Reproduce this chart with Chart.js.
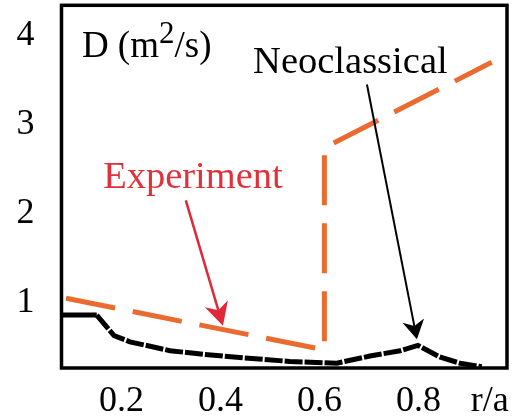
<!DOCTYPE html>
<html>
<head>
<meta charset="utf-8">
<script src="https://cdn.jsdelivr.net/npm/chart.js@4.4.0/dist/chart.umd.min.js"></script>
<style>
html, body { margin: 0; padding: 0; background: #fff; }
#wrap { width: 520px; height: 418px; }
</style>
</head>
<body>
<div id="wrap"><canvas id="graphic-d"></canvas></div>
<script>
// values (r/a, D in m2/s)
var experimentR = [0.088, 0.61, 0.61, 0.948];
var experimentD = [1.02, 0.44, 2.71, 3.67];
var neoR = [0.079, 0.150, 0.185, 0.217, 0.258, 0.298, 0.365, 0.445, 0.540, 0.635, 0.702, 0.763, 0.799, 0.843, 0.884, 0.928];
var neoD = [0.83, 0.83, 0.60, 0.53, 0.48, 0.43, 0.39, 0.35, 0.31, 0.29, 0.37, 0.43, 0.49, 0.36, 0.29, 0.25];
var xTicks = [0.2, 0.4, 0.6, 0.8, 0.944];
var xTickLabels = ['0.2', '0.4', '0.6', '0.8', 'r/a'];
var yTicks = [1, 2, 3, 4];
var yTickLabels = ['1', '2', '3', '4'];

var FONT = "'Liberation Serif', 'DejaVu Serif', serif";
var ORANGE = '#E96B30';
var RED = '#E0303A';

function toPoints(xs, ys) {
    return xs.map(function (x, i) { return { x: x, y: ys[i] }; });
}

function drawArrow(ctx, x0, y0, x1, y1, color, lw, headLen, headHalf) {
    var a = Math.atan2(y1 - y0, x1 - x0);
    var ux = Math.cos(a), uy = Math.sin(a);
    var bx = x1 - ux * headLen, by = y1 - uy * headLen;
    var nx = x1 - ux * headLen * 0.7, ny = y1 - uy * headLen * 0.7;
    ctx.save();
    ctx.strokeStyle = color;
    ctx.fillStyle = color;
    ctx.lineWidth = lw;
    ctx.beginPath();
    ctx.moveTo(x0, y0);
    ctx.lineTo(nx, ny);
    ctx.stroke();
    ctx.beginPath();
    ctx.moveTo(x1, y1);
    ctx.lineTo(bx - uy * headHalf, by + ux * headHalf);
    ctx.lineTo(nx, ny);
    ctx.lineTo(bx + uy * headHalf, by - ux * headHalf);
    ctx.closePath();
    ctx.fill();
    ctx.restore();
}

function noPad(s) {
    s.paddingTop = 0;
    s.paddingBottom = 0;
    s.paddingLeft = 0;
    s.paddingRight = 0;
}

var framePlugin = {
    id: 'frame',
    afterDatasetsDraw: function (chart) {
        var a = chart.chartArea, ctx = chart.ctx;
        ctx.save();
        ctx.strokeStyle = '#000';
        ctx.lineWidth = 3.5;
        ctx.strokeRect(a.left, a.top, a.right - a.left, a.bottom - a.top);
        ctx.restore();
    }
};

var notesPlugin = {
    id: 'notes',
    afterDraw: function (chart) {
        var ctx = chart.ctx, xs = chart.scales.x, ys = chart.scales.y;
        function px(v) { return xs.getPixelForValue(v); }
        function py(v) { return ys.getPixelForValue(v); }
        ctx.save();
        ctx.textBaseline = 'alphabetic';
        ctx.textAlign = 'left';

        // D (m^2/s)
        ctx.fillStyle = '#000';
        ctx.font = '37px ' + FONT;
        var x = px(0.120), y = py(3.73);
        ctx.fillText('D (m', x, y);
        x += ctx.measureText('D (m').width;
        ctx.font = '31px ' + FONT;
        ctx.fillText('2', x, y - 14);
        x += ctx.measureText('2').width;
        ctx.font = '37px ' + FONT;
        ctx.fillText('/s)', x, y);

        ctx.font = '38.5px ' + FONT;
        ctx.fillText('Neoclassical', px(0.466), py(3.55));
        ctx.fillStyle = RED;
        ctx.fillText('Experiment', px(0.163), py(2.26));
        ctx.restore();

        drawArrow(ctx, px(0.696), py(3.42), px(0.797), py(0.56), '#000', 2, 19, 11);
        drawArrow(ctx, px(0.330), py(2.12), px(0.405), py(0.71), '#E02838', 2.5, 23, 12);
    }
};

new Chart(document.getElementById('graphic-d'), {
    type: 'line',
    data: {
        datasets: [{
            label: 'Experiment',
            data: toPoints(experimentR, experimentD),
            borderColor: ORANGE,
            backgroundColor: 'transparent',
            borderWidth: 5,
            borderDash: [50, 18],
            borderCapStyle: 'butt',
            borderJoinStyle: 'miter',
            pointRadius: 0,
            tension: 0,
            fill: false
        }, {
            label: 'Neoclassical',
            data: toPoints(neoR, neoD),
            borderColor: '#000',
            backgroundColor: 'transparent',
            borderWidth: 5,
            borderCapStyle: 'butt',
            borderJoinStyle: 'miter',
            segment: {
                borderDash: function (c) { return c.p0DataIndex === 0 ? [] : [18, 2]; }
            },
            pointRadius: 0,
            tension: 0,
            fill: false
        }]
    },
    options: {
        responsive: true,
        maintainAspectRatio: false,
        animation: false,
        layout: { padding: { top: 5.3, right: 13, left: 0, bottom: 0 } },
        plugins: { legend: { display: false }, tooltip: { enabled: false } },
        scales: {
            x: {
                type: 'linear',
                min: 0.0788,
                max: 0.979,
                grid: { display: false, drawTicks: false },
                border: { display: false },
                afterFit: function (s) { s.height = 50; noPad(s); },
                afterBuildTicks: function (s) { s.ticks = xTicks.map(function (v) { return { value: v }; }); },
                ticks: {
                    autoSkip: false,
                    maxRotation: 0,
                    padding: 12,
                    color: '#000',
                    font: { family: FONT, size: 36 },
                    callback: function (v) { var i = xTicks.indexOf(v); return i < 0 ? '' : xTickLabels[i]; }
                }
            },
            y: {
                type: 'linear',
                min: 0.236,
                max: 4.31,
                grid: { display: false, drawTicks: false },
                border: { display: false },
                afterFit: function (s) { s.width = 61.5; noPad(s); },
                afterBuildTicks: function (s) { s.ticks = yTicks.map(function (v) { return { value: v }; }); },
                ticks: {
                    autoSkip: false,
                    padding: 27,
                    labelOffset: 3,
                    color: '#000',
                    font: { family: FONT, size: 36 },
                    callback: function (v) { var i = yTicks.indexOf(v); return i < 0 ? '' : yTickLabels[i]; }
                }
            }
        }
    },
    plugins: [framePlugin, notesPlugin]
});
</script>
</body>
</html>
